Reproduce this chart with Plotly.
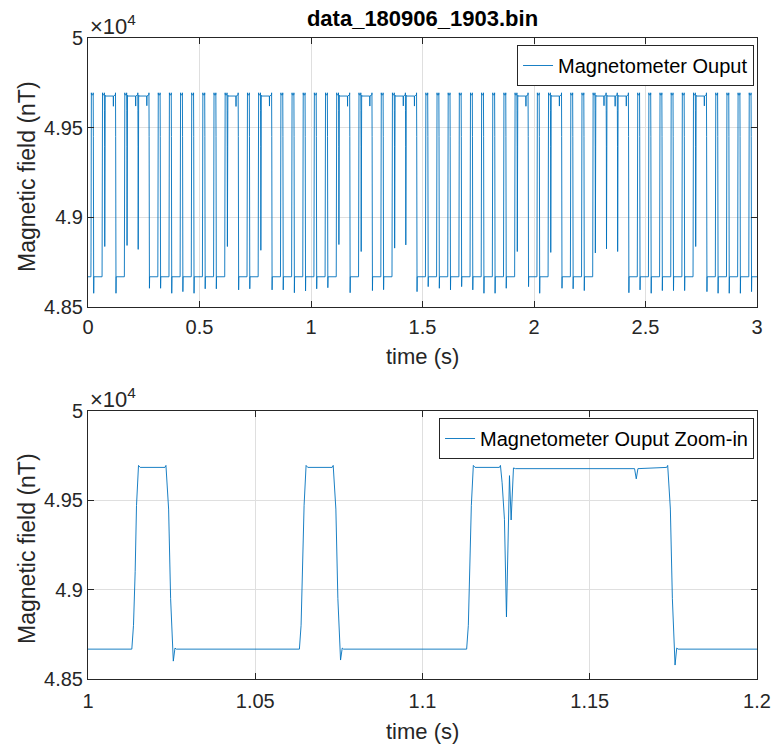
import plotly.graph_objects as go

# ---------------- data ----------------
BASE = 48667      # low level (nT)
TOP = 49683       # flat top of a short pulse
PEAK = 49694      # small overshoot at the corners
LONG = 49676      # flat level of long (merged) pulses

# start of each high segment (s)
seg_rise = [0.0131, 0.0631, 0.1631, 0.3131, 0.3631, 0.4131, 0.4631, 0.5131, 0.5631,
            0.6131, 0.7131, 0.7631, 0.8631, 0.9131, 0.9631, 1.0131, 1.0632, 1.1132,
            1.2132, 1.3132, 1.3632, 1.5132, 1.5632, 1.6132, 1.6632, 1.7132, 1.7632,
            1.8132, 1.8632, 1.9132, 2.0132, 2.0632, 2.1632, 2.2132, 2.2632, 2.4632,
            2.5132, 2.5632, 2.6132, 2.6632, 2.7132, 2.8132, 2.8632, 2.9132, 2.9632]
# time where the top of each segment ends and the signal falls (s)
seg_fall = [0.0233, 0.1233, 0.2733, 0.3233, 0.3733, 0.4233, 0.4733, 0.5233, 0.5733,
            0.6733, 0.7233, 0.8233, 0.8733, 0.9233, 0.9733, 1.0233, 1.0733, 1.1733,
            1.2733, 1.3233, 1.4733, 1.5233, 1.5733, 1.6233, 1.6733, 1.7233, 1.7733,
            1.8233, 1.8733, 1.9733, 2.0233, 2.1233, 2.1733, 2.2233, 2.4233, 2.4733,
            2.5233, 2.5733, 2.6233, 2.6733, 2.7733, 2.8233, 2.8733, 2.9233, 2.9733]
# lowest value of the undershoot after each fall (nT)
seg_undershoot = [48575, 48575, 48603, 48603, 48575, 48584, 48575, 48600, 48600,
                  48594, 48600, 48594, 48594, 48578, 48588, 48600, 48606, 48578,
                  48590, 48595, 48584, 48612, 48603, 48594, 48612, 48594, 48575,
                  48575, 48603, 48612, 48575, 48603, 48600, 48590, 48578, 48594,
                  48575, 48590, 48590, 48590, 48584, 48575, 48575, 48575, 48584]
# deep dips inside long segments (s, nT)
deep_dip_t = [0.0733, 0.1733, 0.2233, 0.6233, 0.7733, 1.1233, 1.2233, 1.3733,
              1.4233, 1.9233, 2.0733, 2.2733, 2.3233, 2.3733, 2.7233]
deep_dip_min = [48836, 48842, 48820, 48836, 48815, 48847, 48808, 48827,
                48845, 48808, 48803, 48800, 48823, 48808, 48836]
# small dips inside long segments (s, nT)
small_dip_t = [0.1138, 0.2138, 0.2638, 0.6638, 0.8138, 1.1639, 1.2639, 1.4139,
               1.4639, 1.9639, 2.1139, 2.3139, 2.3639, 2.4139, 2.7639]
small_dip_min = [49619, 49620, 49622, 49618, 49620, 49619, 49620, 49621,
                 49620, 49619, 49620, 49622, 49619, 49620, 49621]

# edge shapes (offsets in s, values in nT)
rise_dt = [0.0, 0.0005, 0.0010, 0.0014, 0.0020, 0.0025]
rise_v = [BASE, 48800, 49100, 49470, PEAK, TOP]
fall_dt = [-0.0003, 0.0, 0.0008, 0.0014]
fall_v = [TOP, PEAK, 49450, 48950]
recover_dt = [0.0022, 0.0027, 0.0031]
recover_v = [None, 48673, BASE]
dip_dt = [-0.0003, 0.0, 0.0005, 0.0012, 0.0018, 0.0027, 0.0032, 0.0039, 0.0045]
dip_v = [TOP, PEAK, 49597, 49393, None, 49637, 49389, 49680, LONG]
small_dt = [-0.0005, 0.0, 0.0005]

T_START, T_END = 0.0, 3.0
ZOOM_START, ZOOM_END = 1.0, 1.2

# ---------------- build the sampled signal ----------------
pts = [(T_START, BASE), (T_END, BASE)]
for r, f, u in zip(seg_rise, seg_fall, seg_undershoot):
    pts += [(r + d, v) for d, v in zip(rise_dt, rise_v)]
    pts += [(f + d, v) for d, v in zip(fall_dt, fall_v)]
    pts += [(f + d, u if v is None else v) for d, v in zip(recover_dt, recover_v)]
for t0, m in zip(deep_dip_t, deep_dip_min):
    pts += [(t0 + d, m if v is None else v) for d, v in zip(dip_dt, dip_v)]
for t0, m in zip(small_dip_t, small_dip_min):
    pts += [(t0 + small_dt[0], LONG), (t0, m), (t0 + small_dt[2], LONG)]
pts.sort()
t_all = [p[0] for p in pts]
b_all = [p[1] for p in pts]

# ---------------- figure ----------------
BLUE = "#0072BD"
INK = "#262626"
GRID = "#dfdfdf"
FONT = "Liberation Sans, Arial, sans-serif"

fig = go.Figure()
fig.add_trace(go.Scatter(x=t_all, y=b_all, mode="lines", name="Magnetometer Ouput",
                         line=dict(color=BLUE, width=0.9), xaxis="x", yaxis="y",
                         legend="legend"))
fig.add_trace(go.Scatter(x=t_all, y=b_all, mode="lines", name="Magnetometer Ouput Zoom-in",
                         line=dict(color=BLUE, width=0.9), xaxis="x2", yaxis="y2",
                         legend="legend2"))

W, H = 783, 749
ML, MR, MT, MB = 88, 16, 38, 70
plot_w = W - ML - MR
plot_h = H - MT - MB
top_dom = [(H - MB - 306.7) / plot_h, 1.0]
bot_dom = [0.0, (H - MB - 410.7) / plot_h]

ytick_vals = [48500, 49000, 49500, 50000]
ytick_text = ["4.85", "4.9", "4.95", "5"]

axis_common = dict(showline=True, linecolor=INK, linewidth=1, mirror="allticks",
                   ticks="inside", ticklen=6, tickcolor=INK, showgrid=True,
                   gridcolor=GRID, gridwidth=1, zeroline=False,
                   tickfont=dict(family=FONT, size=20, color=INK))

px_to_paper_y = lambda py: (H - MB - py) / plot_h
px_to_paper_x = lambda px: (px - ML) / plot_w

fig.update_layout(
    width=W, height=H, plot_bgcolor="white", paper_bgcolor="white",
    margin=dict(l=ML, r=MR, t=MT, b=MB),
    showlegend=True,
    xaxis=dict(domain=[0, 1], anchor="y", range=[T_START, T_END],
               tickvals=[0, 0.5, 1, 1.5, 2, 2.5, 3], ticktext=["0", "0.5", "1", "1.5", "2", "2.5", "3"],
               ticklabelstandoff=2, **axis_common),
    yaxis=dict(domain=top_dom, anchor="x", range=[48500, 50000],
               tickvals=ytick_vals, ticktext=ytick_text, **axis_common),
    xaxis2=dict(domain=[0, 1], anchor="y2", range=[ZOOM_START, ZOOM_END],
                tickvals=[1, 1.05, 1.1, 1.15, 1.2], ticktext=["1", "1.05", "1.1", "1.15", "1.2"],
                ticklabelstandoff=4, **axis_common),
    yaxis2=dict(domain=bot_dom, anchor="x2", range=[48500, 50000],
                tickvals=ytick_vals, ticktext=ytick_text, **axis_common),
    legend=dict(x=px_to_paper_x(764), y=px_to_paper_y(45), xref="paper", yref="paper",
                xanchor="right", yanchor="top", bgcolor="white", bordercolor=INK,
                borderwidth=1, font=dict(family=FONT, size=20, color="black"), itemwidth=30,
                tracegroupgap=0),
    legend2=dict(x=px_to_paper_x(764), y=px_to_paper_y(418), xref="paper", yref="paper",
                 xanchor="right", yanchor="top", bgcolor="white", bordercolor=INK,
                 borderwidth=1, font=dict(family=FONT, size=20, color="black"), itemwidth=30),
    title=dict(text="<b>data_180906_1903.bin</b>", x=0.5, xref="paper",
               xanchor="center", y=1 - 18 / H, yref="container", yanchor="middle",
               font=dict(family=FONT, size=22, color="black")),
)

# axis titles and exponent labels as annotations
ann = [
    dict(text="time (s)", x=0.5, y=px_to_paper_y(356), xref="paper", yref="paper",
         showarrow=False, font=dict(family=FONT, size=22, color=INK), yanchor="middle"),
    dict(text="time (s)", x=0.5, y=px_to_paper_y(731), xref="paper", yref="paper",
         showarrow=False, font=dict(family=FONT, size=22, color=INK), yanchor="middle"),
    dict(text="Magnetic field (nT)", x=px_to_paper_x(26), y=px_to_paper_y(177),
         xref="paper", yref="paper", textangle=-90, showarrow=False,
         font=dict(family=FONT, size=23, color=INK), xanchor="center", yanchor="middle"),
    dict(text="Magnetic field (nT)", x=px_to_paper_x(26), y=px_to_paper_y(549),
         xref="paper", yref="paper", textangle=-90, showarrow=False,
         font=dict(family=FONT, size=23, color=INK), xanchor="center", yanchor="middle"),
    dict(text="×10<sup>4</sup>", x=0.0, y=px_to_paper_y(25), xref="paper", yref="paper",
         showarrow=False, font=dict(family=FONT, size=22, color=INK), xanchor="left",
         yanchor="middle"),
    dict(text="×10<sup>4</sup>", x=0.0, y=px_to_paper_y(398), xref="paper", yref="paper",
         showarrow=False, font=dict(family=FONT, size=22, color=INK), xanchor="left",
         yanchor="middle"),
]
fig.update_layout(annotations=ann)

fig.write_html("out.html")
